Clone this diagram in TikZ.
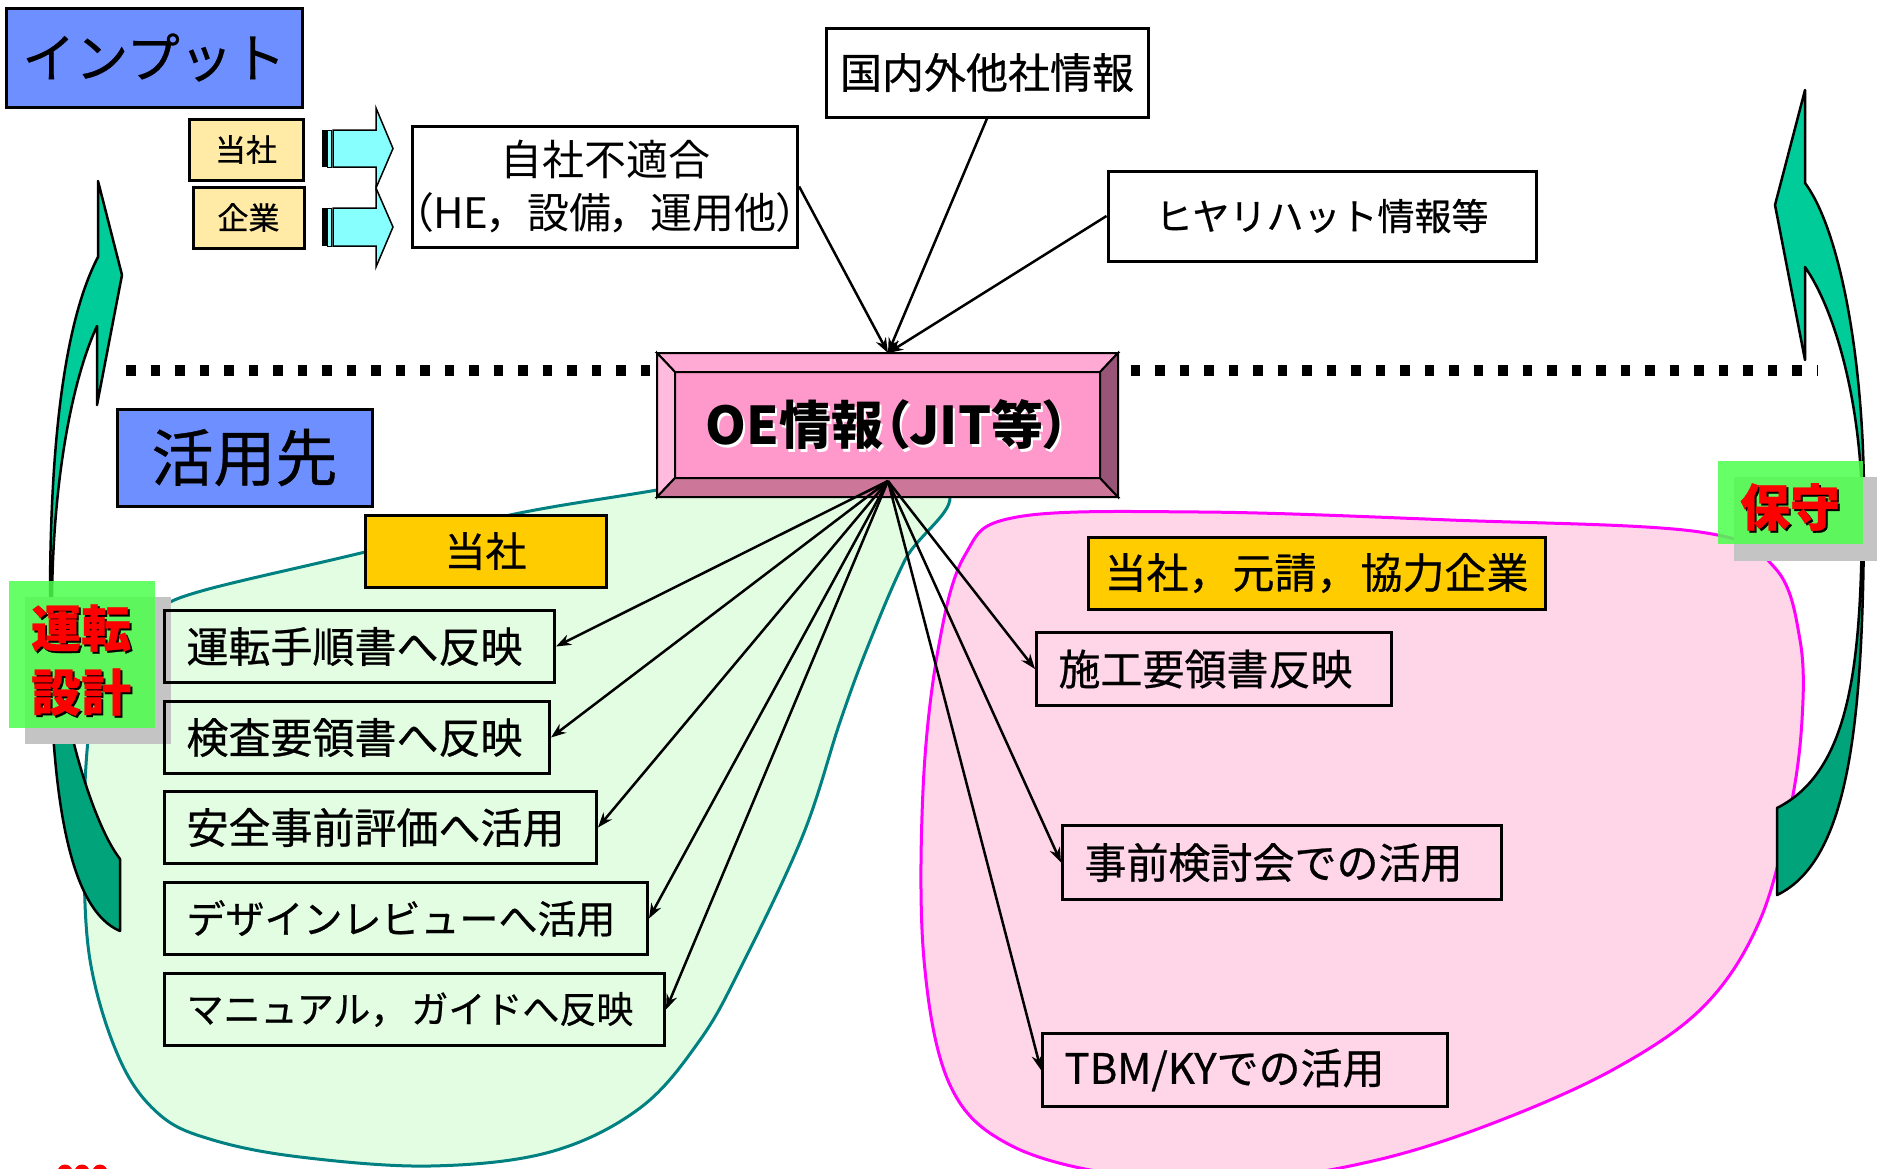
\documentclass[tikz,border=0pt]{standalone}
\usepackage{fontspec}
\setmainfont{Noto Sans CJK JP}[FakeBold=0.6]
\newfontfamily\pfont{Noto Sans CJK JP}[RawFeature=+palt]
\usetikzlibrary{arrows.meta}
\definecolor{inblue}{HTML}{6E8FFF}
\definecolor{lyellow}{HTML}{FFEBA5}
\definecolor{gold}{HTML}{FFCC00}
\definecolor{cyanarrow}{HTML}{88FFFF}
\definecolor{greenfill}{HTML}{E2FDE2}
\definecolor{tealline}{HTML}{008080}
\definecolor{pinkfill}{HTML}{FFD5E8}
\definecolor{magline}{HTML}{FF00FF}
\definecolor{arrowgreen}{HTML}{00CC99}
\definecolor{arrowdark}{HTML}{00A37A}
\definecolor{labelgreen}{HTML}{4CFF4C}
\definecolor{shadowgray}{HTML}{C4C4C4}
\definecolor{oeface}{HTML}{FF99CC}
\definecolor{oetop}{HTML}{FFAAD4}
\definecolor{oeleft}{HTML}{FFBBDD}
\definecolor{oebottom}{HTML}{CC7799}
\definecolor{oeright}{HTML}{995577}
\begin{document}
\begin{tikzpicture}[x=1pt,y=-1pt,
  bx/.style={draw=black, line width=3pt, inner sep=0pt, align=center},
  lbx/.style={draw=black, line width=3pt, inner ysep=0pt, inner xsep=22pt, align=left, anchor=north west, minimum height=72pt},
  conn/.style={line width=2.5pt, -{Stealth[length=15pt,width=11pt]}},
  crv/.style={draw=black, line width=2.5pt, line join=round},
  fs/.style={font=\fontsize{#1}{#1}\selectfont},
  redlabel/.style={align=center, text=red, font=\bfseries\fontsize{50}{64}\selectfont},
  redshadow/.style={align=center, text=black, font=\bfseries\fontsize{50}{64}\selectfont},
]
\useasboundingbox (0,0) rectangle (1877,1168);

% ---------- blobs ----------
\path[fill=greenfill, draw=tealline, line width=3pt] plot[smooth cycle, tension=0.6] coordinates {
 (946,490) (905,560) (868,646) (840,722) (803,835) (742,965) (700,1040) (640,1108) (550,1152) (430,1166) (300,1157) (213,1140) (160,1115) (120,1060) (90,960) (84,840) (88,740) (100,680) (127,637) (157,610) (205,590) (365,552) (510,515) (657,490) (800,465)};
\path[fill=pinkfill, draw=magline, line width=3pt] plot[smooth cycle, tension=0.6] coordinates {
 (1017,517) (1200,512) (1450,520) (1700,532) (1775,568) (1800,640) (1802,720) (1790,810) (1760,920) (1705,1005) (1616,1068) (1496,1122) (1377,1160) (1250,1180) (1120,1175) (1010,1145) (950,1085) (924,960) (923,790) (938,650) (965,555)};

% ---------- curved arrows ----------
\fill[arrowgreen] (1805,90) -- (1775,205) -- (1805,360) -- (1805,267) .. controls (1835,310) and (1860,400) .. (1862,500) .. controls (1862,660) and (1852,770) .. (1777,808) -- (1777,895) .. controls (1850,860) and (1864,720) .. (1864,500) .. controls (1864,360) and (1840,230) .. (1805,183) -- cycle;
\begin{scope}
\clip (1700,600) rectangle (1877,1000);
\fill[arrowdark] (1805,90) -- (1775,205) -- (1805,360) -- (1805,267) .. controls (1835,310) and (1860,400) .. (1862,500) .. controls (1862,660) and (1852,770) .. (1777,808) -- (1777,895) .. controls (1850,860) and (1864,720) .. (1864,500) .. controls (1864,360) and (1840,230) .. (1805,183) -- cycle;
\end{scope}
\path[crv] (1805,90) -- (1775,205) -- (1805,360) -- (1805,267) .. controls (1835,310) and (1860,400) .. (1862,500) .. controls (1862,660) and (1852,770) .. (1777,808) -- (1777,895) .. controls (1850,860) and (1864,720) .. (1864,500) .. controls (1864,360) and (1840,230) .. (1805,183) -- cycle;

\fill[arrowgreen] (98,181) -- (122,275) -- (97,405) -- (97,326) .. controls (72,380) and (53,480) .. (52,600) .. controls (56,700) and (90,820) .. (120,859) -- (120,931) .. controls (70,910) and (48,800) .. (50,600) .. controls (50,440) and (65,320) .. (98,257) -- cycle;
\begin{scope}
\clip (0,640) rectangle (200,1000);
\fill[arrowdark] (98,181) -- (122,275) -- (97,405) -- (97,326) .. controls (72,380) and (53,480) .. (52,600) .. controls (56,700) and (90,820) .. (120,859) -- (120,931) .. controls (70,910) and (48,800) .. (50,600) .. controls (50,440) and (65,320) .. (98,257) -- cycle;
\end{scope}
\path[crv] (98,181) -- (122,275) -- (97,405) -- (97,326) .. controls (72,380) and (53,480) .. (52,600) .. controls (56,700) and (90,820) .. (120,859) -- (120,931) .. controls (70,910) and (48,800) .. (50,600) .. controls (50,440) and (65,320) .. (98,257) -- cycle;

% ---------- dotted separator ----------
\draw[line width=11pt, dash pattern=on 9.5pt off 15pt] (126,370) -- (1818,370);

% ---------- side labels ----------
\fill[shadowgray] (25,597) rectangle (171,744);
\fill[labelgreen, opacity=0.85] (9,581) rectangle (155,728);
\node[redshadow] (untenshadow) at (83,662) {運転\\設計};
\node[redlabel] (unten) at (81,660) {運転\\設計};

\fill[shadowgray] (1734,477) rectangle (1877,561);
\fill[labelgreen, opacity=0.85] (1718,461) rectangle (1863,544);
\node[redshadow, font=\bfseries\fontsize{50}{50}\selectfont] (hoshushadow) at (1792,509) {保守};
\node[redlabel, font=\bfseries\fontsize{50}{50}\selectfont] (hoshu) at (1790,507) {保守};

% ---------- input area ----------
\node[bx, fill=inblue, minimum width=296pt, minimum height=99pt, fs=53] (input) at (154,57.5) {インプット};
\node[bx, fill=lyellow, minimum width=114pt, minimum height=61pt, fs=31] (toshaS) at (246,149.5) {当社};
\node[bx, fill=lyellow, minimum width=111pt, minimum height=61pt, fs=31] (kigyo) at (248.5,217.5) {企業};

% striped arrows
\fill[black] (322,130) rectangle (327,167);
\filldraw[fill=cyanarrow, draw=black, line width=1pt] (327.5,130) rectangle (331,167);
\filldraw[fill=cyanarrow, draw=black, line width=1.5pt] (333,130) -- (376,130) -- (376,108) -- (393,148.5) -- (376,188) -- (376,167) -- (333,167) -- cycle;
\fill[black] (322,208) rectangle (327,246);
\filldraw[fill=cyanarrow, draw=black, line width=1pt] (327.5,208) rectangle (331,246);
\filldraw[fill=cyanarrow, draw=black, line width=1.5pt] (333,208) -- (376,208) -- (376,188) -- (393,227) -- (376,267) -- (376,246) -- (333,246) -- cycle;

\node[bx, fill=white, minimum width=380pt, minimum height=121pt, font=\pfont\fontsize{42}{53}\selectfont] (jisha) at (605,186.5) {自社不適合\\（HE，\hspace{18pt}設備，\hspace{18pt}運用他）};
\node[bx, fill=white, minimum width=322pt, minimum height=89pt, fs=42] (kokunai) at (987,72.5) {国内外他社情報};
\node[bx, fill=white, minimum width=428pt, minimum height=90pt, fs=37] (hiyari) at (1322,216) {ヒヤリハット情報等};

% ---------- OE box ----------
\fill[oeface] (675,372) rectangle (1100,478);
\filldraw[fill=oetop, draw=black, line width=2pt] (657,353) -- (1118,353) -- (1100,372) -- (675,372) -- cycle;
\filldraw[fill=oeleft, draw=black, line width=2pt] (657,353) -- (675,372) -- (675,478) -- (657,497) -- cycle;
\filldraw[fill=oebottom, draw=black, line width=2pt] (657,497) -- (675,478) -- (1100,478) -- (1118,497) -- cycle;
\filldraw[fill=oeright, draw=black, line width=2pt] (1118,353) -- (1100,372) -- (1100,478) -- (1118,497) -- cycle;
\draw[line width=2pt] (675,372) rectangle (1100,478);
\node[text=white, font=\pfont\bfseries\fontsize{52}{52}\selectfont] (oeshadow) at (889.5,427.5) {OE情報（JIT等）};
\node[minimum width=461pt, minimum height=144pt, inner sep=0pt, font=\pfont\bfseries\fontsize{52}{52}\selectfont] (oe) at (887.5,425) {OE情報（JIT等）};
\coordinate (oetopc) at (888,353);
\coordinate (oebot) at (888,481);

% input connectors
\draw[conn] (jisha.east) -- (oetopc);
\draw[conn] (kokunai.south) -- (oetopc);
\draw[conn] (hiyari.west) -- (oetopc);

% ---------- usage area ----------
\node[bx, fill=inblue, minimum width=255pt, minimum height=97pt, fs=62] (katsuyo) at (244.5,457.5) {活用先};
\node[bx, fill=gold, minimum width=241pt, minimum height=72pt, fs=41] (tosha) at (485.5,551) {当社};
\node[bx, fill=gold, minimum width=457pt, minimum height=72pt, fs=42] (kyoryoku) at (1316.5,573) {当社，\hspace{2pt}元請，\hspace{2pt}協力企業};

\node[lbx, text width=346pt, fs=42] (b1) at (163,609) {運転手順書へ反映};
\node[lbx, text width=341pt, fs=42] (b2) at (163,700) {検査要領書へ反映};
\node[lbx, text width=388pt, fs=42] (b3) at (163,790) {安全事前評価へ活用};
\node[lbx, text width=439pt, fs=39] (b4) at (163,881) {デザインレビューへ活用};
\node[lbx, text width=456pt, fs=37] (b5) at (163,972) {マニュアル，\hspace{4pt}ガイドへ反映};

\node[lbx, text width=311pt, minimum height=73pt, fs=42] (r1) at (1035,631) {施工要領書反映};
\node[lbx, text width=395pt, minimum height=74pt, fs=42] (r2) at (1061,824) {事前検討会での活用};
\node[lbx, text width=361pt, minimum height=73pt, fs=42] (r3) at (1041,1032) {TBM/KYでの活用};

\foreach \t in {b1,b2,b3,b4,b5} \draw[conn] (oebot) -- (\t.east);
\foreach \t in {r1,r2,r3} \draw[conn] (oebot) -- (\t.west);

% cut-off red marks at bottom edge
\fill[red] (65,1172) circle (7.5);
\fill[red] (82,1172) circle (7.5);
\fill[red] (100,1172) circle (7.5);
\end{tikzpicture}
\end{document}
